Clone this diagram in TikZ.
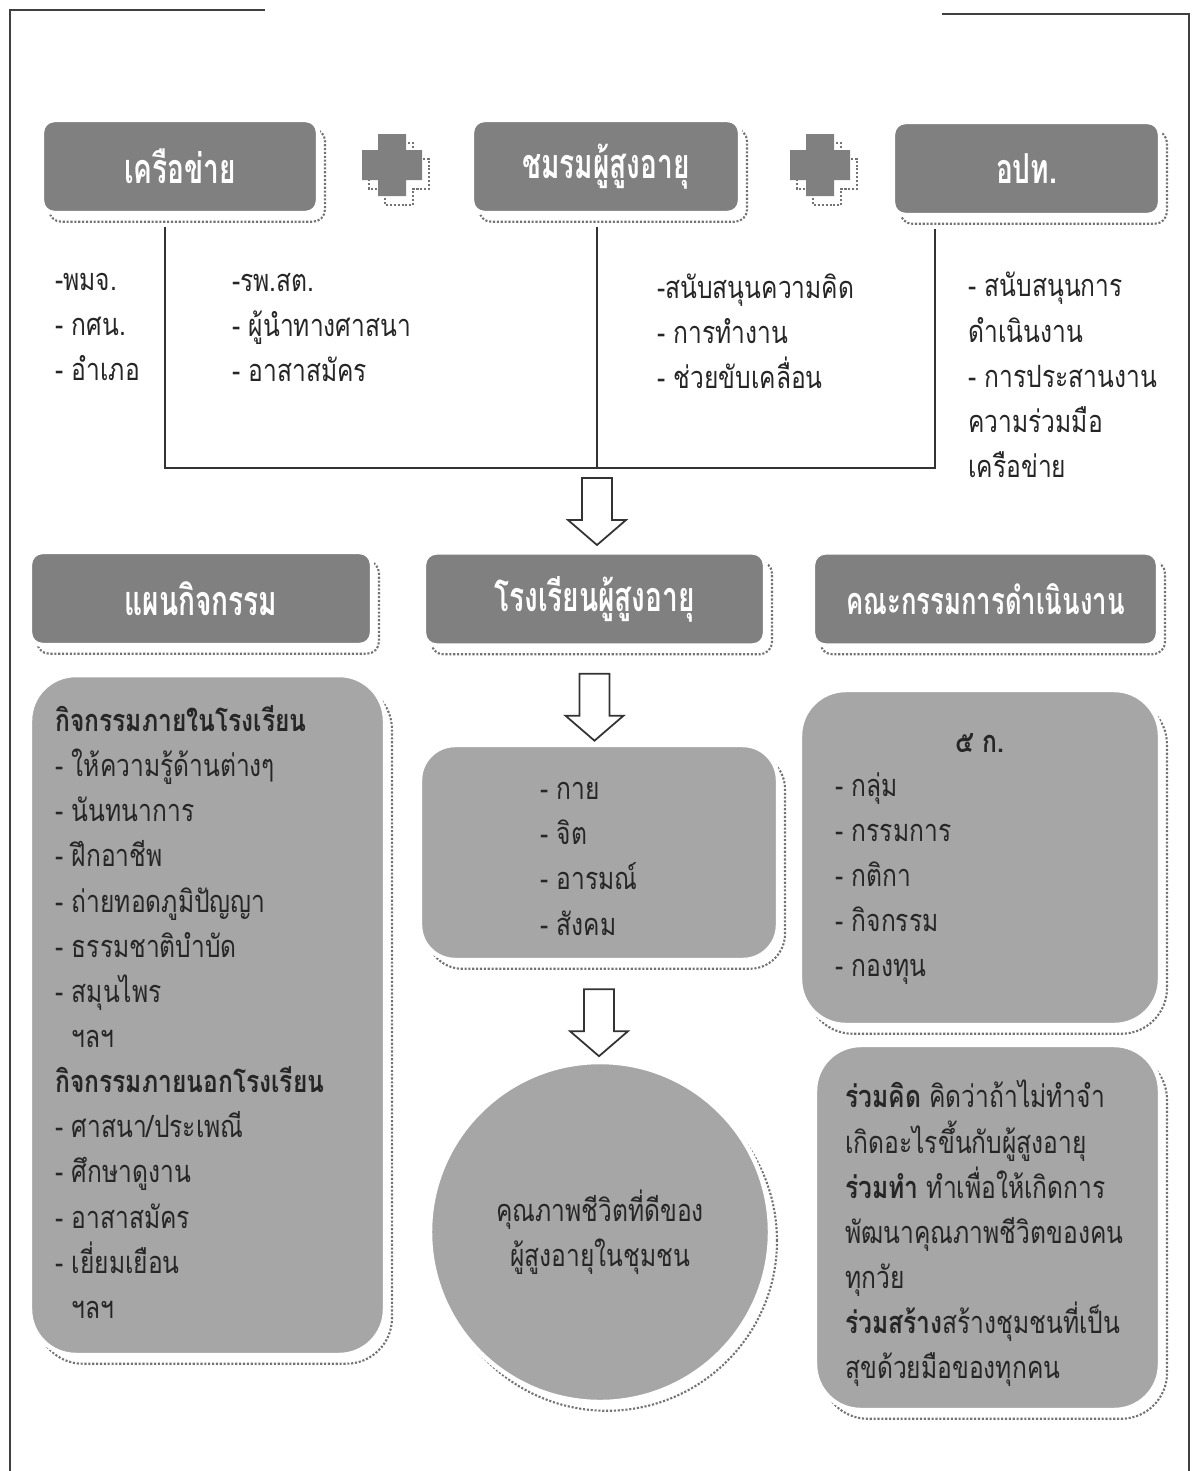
\documentclass[tikz,border=0pt]{standalone}
\usepackage{fontspec}
\newfontfamily\thaifont[Script=Thai,FakeStretch=0.8]{Loma}
\newfontfamily\thaihead[Script=Thai,FakeStretch=0.68]{Loma}
\usetikzlibrary{calc,shadows}

\begin{document}
\begin{tikzpicture}[x=0.02cm,y=-0.02cm,
  dotshadow/.style={general shadow={shadow xshift=4pt,shadow yshift=-5pt,draw=black!55,densely dotted,line width=1.2pt}},
  headbox/.style={rectangle,rounded corners=7pt,fill=black!50,draw=white,line width=2.5pt,dotshadow,
    text=white,font={\thaihead\bfseries\fontsize{23.5}{26}\selectfont},minimum height=1.86cm},
  bodybox/.style={rectangle,rounded corners=26pt,fill=black!35,draw=white,line width=2.5pt,dotshadow},
  lst/.style={anchor=north west,inner sep=0pt,align=left,text=black!85,
    font={\thaifont\fontsize{17.5}{25.7}\selectfont},execute at begin node={\rule{0pt}{18pt}}},
  bus/.style={line width=1.1pt,draw=black!80},
  frame/.style={line width=1.2pt,draw=black!75},
  pics/plusmark/.style={code={
    \path[fill=black!50,dotshadow] (-14,-31) -- (14,-31) -- (14,-15) -- (30,-15) -- (30,15) -- (14,15)
      -- (14,31) -- (-14,31) -- (-14,15) -- (-30,15) -- (-30,-15) -- (-14,-15) -- cycle;}},
  pics/holarrow/.style={code={
    \draw[line width=1pt,draw=black!80,fill=white] (-15,0) -- (-15,42) -- (-29,42) -- (0,67)
      -- (29,42) -- (15,42) -- (15,0) -- cycle;}}]
\useasboundingbox (0,0) rectangle (1194,1471);

% frame
\draw[frame] (265,10) -- (10,10) -- (10,1471);
\draw[frame] (942,14) -- (1189,14) -- (1189,1471);

% first row
\node[headbox,minimum width=5.52cm] (net) at (180,166.5) {เครือข่าย};
\node[headbox,minimum width=5.36cm] (club) at (606,166.5) {ชมรมผู้สูงอายุ};
\node[headbox,minimum width=5.34cm] (lgo) at (1026.5,168.5) {อปท.};
\pic (plus1) at (392,165) {plusmark};
\pic (plus2) at (820,165) {plusmark};

\coordinate (bl) at (165,468);
\coordinate (bm) at (597,468);
\coordinate (br) at (935,468);
\draw[bus] ($(net.south -| bl)+(0,12)$) -- (bl) -- (br) -- ($(lgo.south -| br)+(0,12)$);
\draw[bus] ($(club.south -| bm)+(0,12)$) -- (bm);

\node[lst] (gov) at (55,273) {-พมจ.\\- กศน.\\- อำเภอ};
\node[lst] (health) at (232,273) {-รพ.สต.\\- ผู้นำทางศาสนา\\- อาสาสมัคร};
\node[lst] (idea) at (657,273) {-สนับสนุนความคิด\\- การทำงาน\\- ช่วยขับเคลื่อน};
\node[lst] (support) at (968,272) {- สนับสนุนการ\\ดำเนินงาน\\- การประสานงาน\\ความร่วมมือ\\เครือข่าย};

\pic (arr1) at ($(bm)+(0,10)$) {holarrow};

% second row
\node[headbox,minimum width=6.84cm] (plan) at (201,598.5) {แผนกิจกรรม};
\node[headbox,minimum width=6.82cm] (school) at (594.5,599) {โรงเรียนผู้สูงอายุ};
\node[headbox,minimum width=6.9cm,font={\thaihead\bfseries\fontsize{21.5}{26}\selectfont}] (comm) at (985.5,599) {คณะกรรมการดำเนินงาน};

% bodies
\node[bodybox,minimum width=7.1cm,minimum height=13.6cm] (acts) at (207.5,1015) {};
\node[lst] (actstxt) at (55,705) {\textbf{กิจกรรมภายในโรงเรียน}\\
- ให้ความรู้ด้านต่างๆ\\
- นันทนาการ\\
- ฝึกอาชีพ\\
- ถ่ายทอดภูมิปัญญา\\
- ธรรมชาติบำบัด\\
- สมุนไพร\\
\phantom{- }ฯลฯ\\
\textbf{กิจกรรมภายนอกโรงเรียน}\\
- ศาสนา/ประเพณี\\
- ศึกษาดูงาน\\
- อาสาสมัคร\\
- เยี่ยมเยือน\\
\phantom{- }ฯลฯ};

\pic (arr2) at ($(school.south)+(0,26)$) {holarrow};
\node[bodybox,rounded corners=20pt,minimum width=7.16cm,minimum height=4.3cm] (dims) at (599,852.5) {};
\node[lst] (dimstxt) at (540,782) {- กาย\\- จิต\\- อารมณ์\\- สังคม};

\pic (arr3) at ($(dims.south)+(0,27)$) {holarrow};
\node[circle,fill=black!35,draw=white,line width=2.5pt,dotshadow,minimum size=6.8cm,
  align=center,text=black!85,font={\thaifont\fontsize{17.5}{25.7}\selectfont}] (life) at (600,1232)
  {คุณภาพชีวิตที่ดีของ\\ผู้สูงอายุในชุมชน};

\node[bodybox,minimum width=7.2cm,minimum height=6.7cm] (fiveg) at (980,857.5) {};
\node[lst,anchor=base,execute at begin node={}] (fivetitle) at (980,752) {\textbf{๕ ก.}};
\node[lst] (fivetxt) at (835,772) {- กลุ่ม\\- กรรมการ\\- กติกา\\- กิจกรรม\\- กองทุน};

\node[bodybox,minimum width=6.9cm,minimum height=7.3cm] (joint) at (987.5,1227.5) {};
\node[lst] (jointtxt) at (845,1080) {\textbf{ร่วมคิด} คิดว่าถ้าไม่ทำจำ\\
เกิดอะไรขึ้นกับผู้สูงอายุ\\
\textbf{ร่วมทำ}  ทำเพื่อให้เกิดการ\\
พัฒนาคุณภาพชีวิตของคน\\
ทุกวัย\\
\textbf{ร่วมสร้าง}สร้างชุมชนที่เป็น\\
สุขด้วยมือของทุกคน};
\end{tikzpicture}
\end{document}
